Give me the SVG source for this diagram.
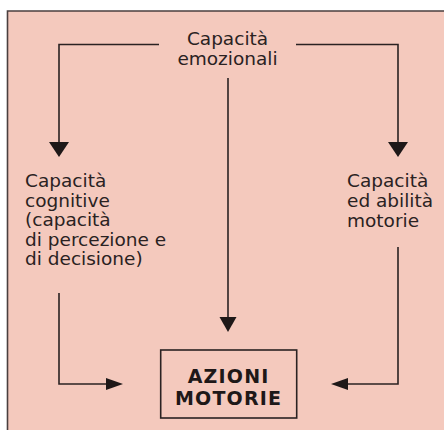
<svg xmlns="http://www.w3.org/2000/svg" width="444" height="430" viewBox="0 0 444 430">
<style>
.t{font-family:"DejaVu Sans",sans-serif;font-size:18.5px;fill:#2a2222}
.b{font-family:"DejaVu Sans",sans-serif;font-size:19px;font-weight:bold;fill:#1e1818;letter-spacing:1.2px}
.ln{fill:none;stroke:#2a2222;stroke-width:1.6}
.ah{fill:#1e1818}
</style>
<rect x="0" y="0" width="444" height="430" fill="#ffffff"/>
<rect x="7.5" y="11" width="437" height="419" fill="#f4c9bd"/>
<path d="M7.5 430 V11 H444" fill="none" stroke="#4a3f3f" stroke-width="1.6"/>
<g id="connectors">
<path class="ln" d="M159 44.5 H59 V142"/>
<polygon class="ah" points="49,142 69,142 59,157"/>
<path class="ln" d="M296 44.5 H398 V142"/>
<polygon class="ah" points="388,142 408,142 398,157"/>
<path class="ln" d="M228 78 V318"/>
<polygon class="ah" points="219.5,317 236.5,317 228,332"/>
<path class="ln" d="M59 293 V384 H107"/>
<polygon class="ah" points="106,378 106,390 123,384"/>
<path class="ln" d="M398 247 V384 H347"/>
<polygon class="ah" points="348,378 348,390 331,384"/>
</g>
<g id="emozionali">
<text class="t" x="227.5" y="45" text-anchor="middle">Capacità</text>
<text class="t" x="227.5" y="65" text-anchor="middle">emozionali</text>
</g>
<g id="cognitive">
<text class="t" x="25" y="187">Capacità</text>
<text class="t" x="25" y="206.5">cognitive</text>
<text class="t" x="25" y="226">(capacità</text>
<text class="t" x="25" y="245.5">di percezione e</text>
<text class="t" x="25" y="265">di decisione)</text>
</g>
<g id="motorie">
<text class="t" x="347" y="187">Capacità</text>
<text class="t" x="347" y="207">ed abilità</text>
<text class="t" x="347" y="227">motorie</text>
</g>
<g id="azioni">
<rect x="160.7" y="350" width="136" height="68" fill="none" stroke="#2a2222" stroke-width="1.6"/>
<text class="b" x="228.6" y="383" text-anchor="middle">AZIONI</text>
<text class="b" x="228.6" y="405" text-anchor="middle">MOTORIE</text>
</g>
</svg>
